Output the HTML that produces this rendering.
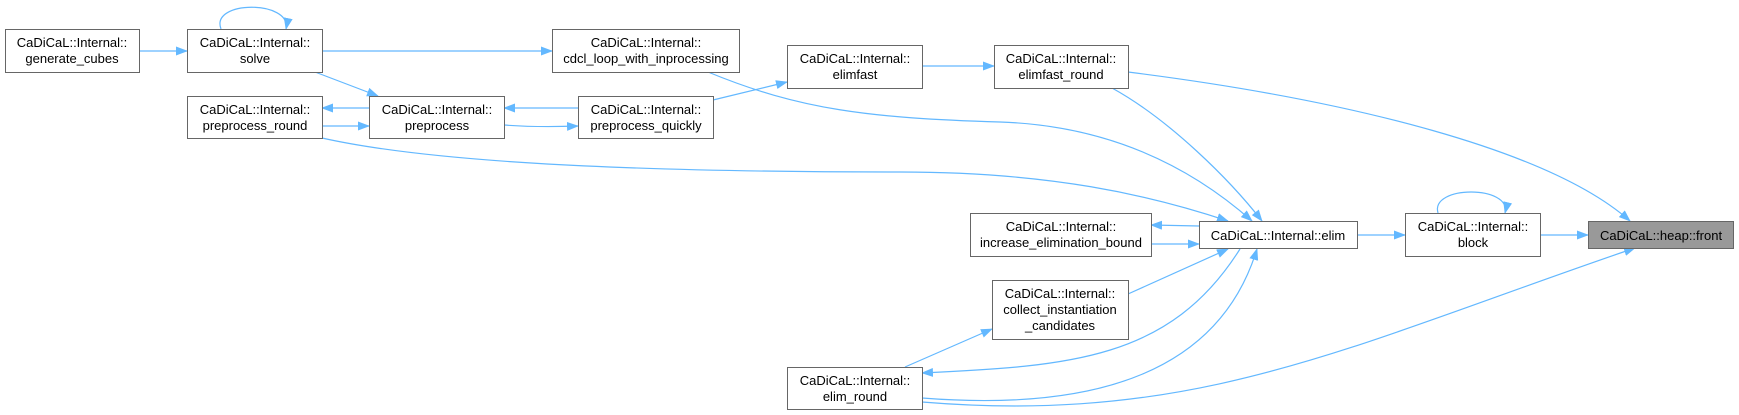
<!DOCTYPE html>
<html><head><meta charset="utf-8"><style>
html,body{margin:0;padding:0;background:#fff;width:1739px;height:415px;overflow:hidden}
svg text{font-family:"Liberation Sans",Arial,sans-serif;font-size:13px;fill:#000;text-anchor:middle}
.n{fill:#fff;stroke:#666;stroke-width:1}
.e{fill:none;stroke:#63b8ff;stroke-width:1.2}
</style></head><body>
<svg width="1739" height="415" xmlns="http://www.w3.org/2000/svg">
<defs><marker id="a" markerWidth="12" markerHeight="9" refX="11" refY="4.5" orient="auto" markerUnits="userSpaceOnUse"><path d="M0,0 L12,4.5 L0,9 z" fill="#63b8ff"/></marker></defs>
<g>
<path class="e" marker-end="url(#a)" d="M139,51 L187,51"/>
<path class="e" marker-end="url(#a)" d="M221,29 C210,0 292,0 286,29"/>
<path class="e" marker-end="url(#a)" d="M322,51 L552,51"/>
<path class="e" marker-end="url(#a)" d="M315,72 L378,96"/>
<path class="e" marker-end="url(#a)" d="M369,108 L322,108"/>
<path class="e" marker-end="url(#a)" d="M322,126 L369,126"/>
<path class="e" marker-end="url(#a)" d="M578,108 L504,108"/>
<path class="e" marker-end="url(#a)" d="M504,125 C530,127 550,127 578,126"/>
<path class="e" marker-end="url(#a)" d="M713,100 L787,82"/>
<path class="e" marker-end="url(#a)" d="M922,66 L994,66"/>
<path class="e" marker-end="url(#a)" d="M708,72 C800,110 870,118 1000,122 C1120,126 1200,175 1252,221"/>
<path class="e" marker-end="url(#a)" d="M1112,88 C1170,120 1230,180 1262,221"/>
<path class="e" marker-end="url(#a)" d="M1128,72 C1350,100 1550,150 1630,221"/>
<path class="e" marker-end="url(#a)" d="M322,138 C420,160 600,172 900,172 C1050,172 1150,195 1228,221"/>
<path class="e" marker-end="url(#a)" d="M1199,226 L1151,225"/>
<path class="e" marker-end="url(#a)" d="M1151,244 L1199,244"/>
<path class="e" marker-end="url(#a)" d="M1128,294 L1228,249"/>
<path class="e" marker-end="url(#a)" d="M1240,249 C1170,360 1070,366 922,373"/>
<path class="e" marker-end="url(#a)" d="M922,398 C1100,412 1220,370 1257,249"/>
<path class="e" marker-end="url(#a)" d="M905,367 L992,329"/>
<path class="e" marker-end="url(#a)" d="M922,402 C1200,425 1350,345 1635,248"/>
<path class="e" marker-end="url(#a)" d="M1357,235 L1405,235"/>
<path class="e" marker-end="url(#a)" d="M1438,213 C1430,185 1512,185 1505,213"/>
<path class="e" marker-end="url(#a)" d="M1540,235 L1588,235"/>
</g>
<g>
<rect class="n" x="5.5" y="29.5" width="134" height="43"/><text x="72" y="47">CaDiCaL::Internal::</text><text x="72" y="63">generate_cubes</text>
<rect class="n" x="187.5" y="29.5" width="135" height="43"/><text x="255" y="47">CaDiCaL::Internal::</text><text x="255" y="63">solve</text>
<rect class="n" x="552.5" y="29.5" width="187" height="43"/><text x="646" y="47">CaDiCaL::Internal::</text><text x="646" y="63">cdcl_loop_with_inprocessing</text>
<rect class="n" x="787.5" y="45.5" width="135" height="43"/><text x="855" y="63">CaDiCaL::Internal::</text><text x="855" y="79">elimfast</text>
<rect class="n" x="994.5" y="45.5" width="134" height="43"/><text x="1061" y="63">CaDiCaL::Internal::</text><text x="1061" y="79">elimfast_round</text>
<rect class="n" x="187.5" y="96.5" width="135" height="42"/><text x="255" y="114">CaDiCaL::Internal::</text><text x="255" y="130">preprocess_round</text>
<rect class="n" x="369.5" y="96.5" width="135" height="42"/><text x="437" y="114">CaDiCaL::Internal::</text><text x="437" y="130">preprocess</text>
<rect class="n" x="578.5" y="96.5" width="135" height="42"/><text x="646" y="114">CaDiCaL::Internal::</text><text x="646" y="130">preprocess_quickly</text>
<rect class="n" x="970.5" y="213.5" width="181" height="43"/><text x="1061" y="231">CaDiCaL::Internal::</text><text x="1061" y="247">increase_elimination_bound</text>
<rect class="n" x="1199.5" y="221.5" width="158" height="27"/><text x="1278" y="240">CaDiCaL::Internal::elim</text>
<rect class="n" x="1405.5" y="213.5" width="135" height="43"/><text x="1473" y="231">CaDiCaL::Internal::</text><text x="1473" y="247">block</text>
<rect x="1588.5" y="221.5" width="145" height="27" fill="#999" stroke="#666"/><text x="1661" y="240">CaDiCaL::heap::front</text>
<rect class="n" x="992.5" y="280.5" width="136" height="59"/><text x="1060" y="298">CaDiCaL::Internal::</text><text x="1060" y="314">collect_instantiation</text><text x="1060" y="330">_candidates</text>
<rect class="n" x="787.5" y="367.5" width="135" height="42"/><text x="855" y="385">CaDiCaL::Internal::</text><text x="855" y="401">elim_round</text>
</g>
</svg>
</body></html>
